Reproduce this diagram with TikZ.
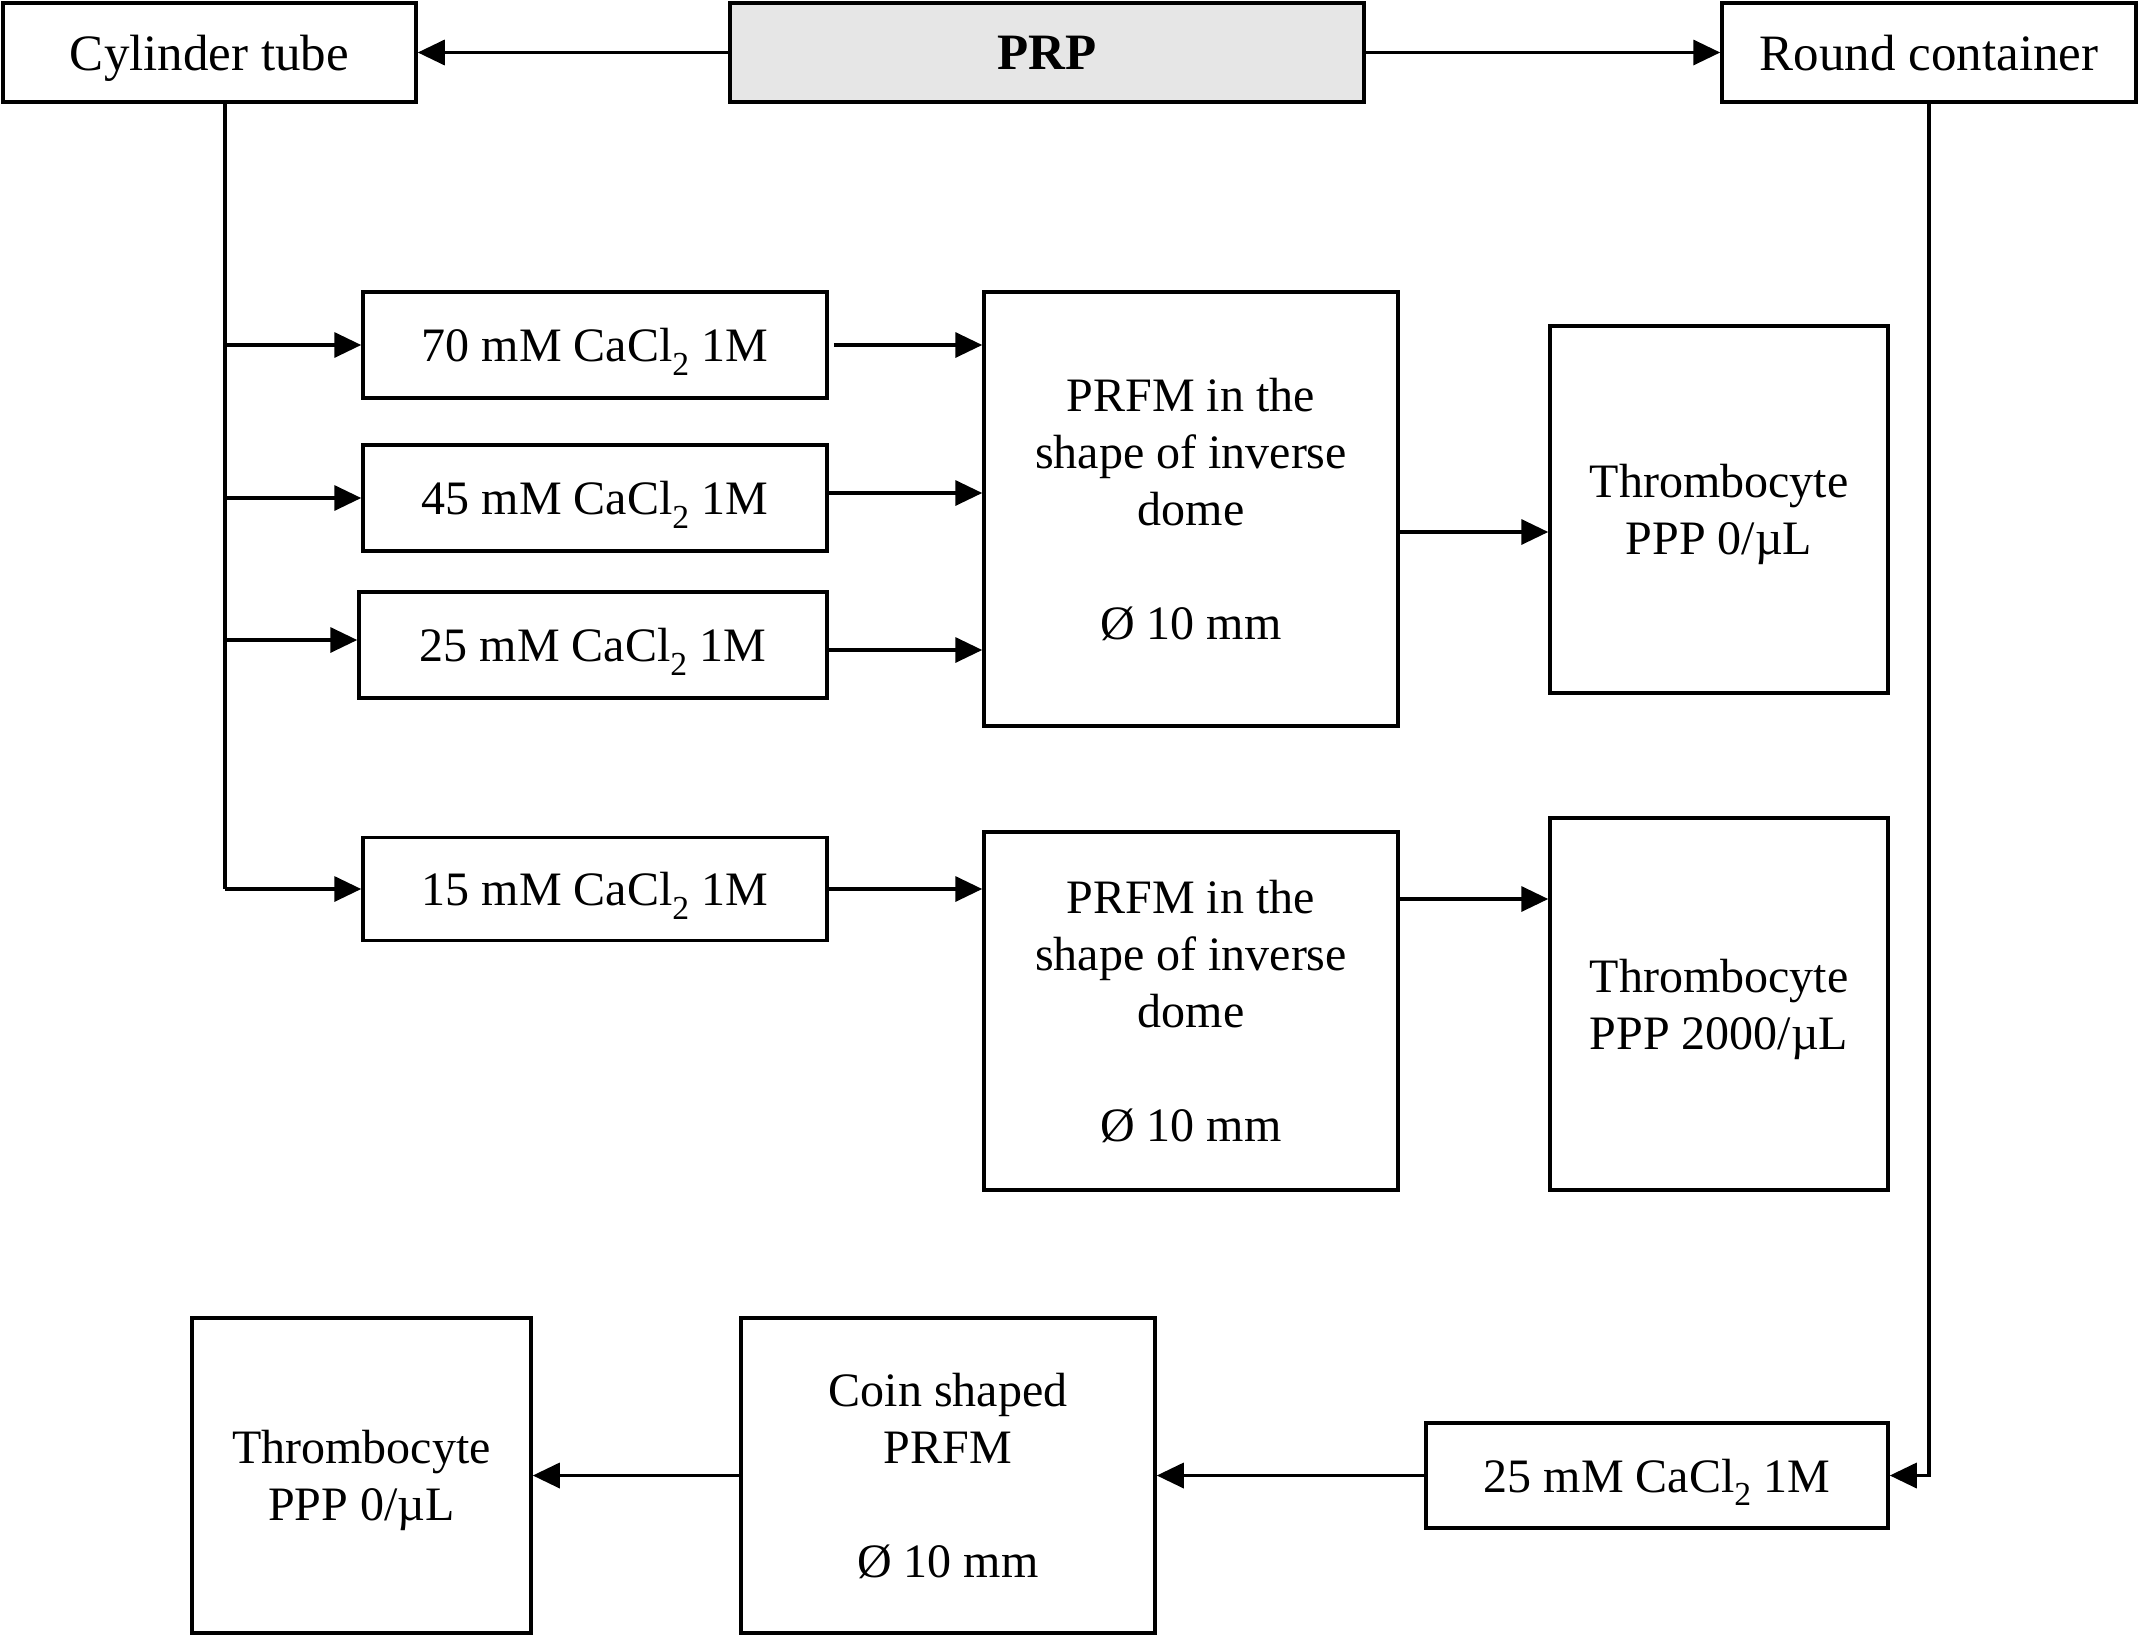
\documentclass[tikz,border=0pt]{standalone}
\usepackage{fontspec}
\setmainfont{Liberation Serif}
\usetikzlibrary{arrows.meta}
\begin{document}
\begin{tikzpicture}[x=1pt,y=-1pt,
  box/.style={draw,line width=3.5pt,rectangle,inner sep=0pt,align=center,text depth=0pt,
    font=\fontsize{48}{57}\selectfont},
  topbox/.style={box,minimum height=99pt,font=\fontsize{51}{60}\selectfont},
  arr/.style={line width=3.5pt,-{Triangle[length=27pt,width=25pt]}},
  ln/.style={line width=3.5pt}]
\useasboundingbox (0,0) rectangle (2139,1638);
\node[topbox,minimum width=413pt] (cyl) at (209.5,52.5) {Cylinder tube};
\node[topbox,minimum width=634pt,fill={rgb,255:red,230;green,230;blue,230},font=\fontsize{51}{60}\selectfont\bfseries] (prp) at (1047,52.5) {PRP};
\node[topbox,minimum width=414pt] (round) at (1929,52.5) {Round container};
\node[box,minimum width=464pt,minimum height=106pt] (c70) at (595,345) {70 mM CaCl\textsubscript{2} 1M};
\node[box,minimum width=464pt,minimum height=106pt] (c45) at (595,498) {45 mM CaCl\textsubscript{2} 1M};
\node[box,minimum width=468pt,minimum height=106pt] (c25) at (593,645) {25 mM CaCl\textsubscript{2} 1M};
\node[box,minimum width=464pt,minimum height=103pt] (c15) at (595,889) {15 mM CaCl\textsubscript{2} 1M};
\node[box,minimum width=414pt,minimum height=434pt] (p1) at (1191,509) {PRFM in the\\shape of inverse\\dome\\[57pt]Ø 10 mm};
\node[box,minimum width=338pt,minimum height=367pt] (t1) at (1719,509.5) {Thrombocyte\\PPP 0/µL};
\node[box,minimum width=414pt,minimum height=358pt] (p2) at (1191,1011) {PRFM in the\\shape of inverse\\dome\\[57pt]Ø 10 mm};
\node[box,minimum width=338pt,minimum height=372pt] (t2) at (1719,1004) {Thrombocyte\\PPP 2000/µL};
\node[box,minimum width=462pt,minimum height=105pt] (b25) at (1657,1475.5) {25 mM CaCl\textsubscript{2} 1M};
\node[box,minimum width=414pt,minimum height=315pt] (coin) at (948,1475.5) {Coin shaped\\PRFM\\[57pt]Ø 10 mm};
\node[box,minimum width=339pt,minimum height=315pt] (tb) at (361.5,1475.5) {Thrombocyte\\PPP 0/µL};
% top arrows
\draw[arr] (prp.west) -- (cyl.east);
\draw[arr] (prp.east) -- (round.west);
% cylinder trunk
\coordinate (cv) at (225,102);
\draw[ln] (cv) -- (cv |- c15.west);
\draw[arr] (c70.west -| cv) -- (c70.west);
\draw[arr] (c45.west -| cv) -- (c45.west);
\draw[arr] ([yshift=5pt]c25.west -| cv) -- ([yshift=5pt]c25.west);
\draw[arr] (c15.west -| cv) -- (c15.west);
% to PRFM
\draw[arr] ([xshift=5pt]c70.east) -- (c70.east -| p1.west);
\draw[arr] ([yshift=5pt]c45.east) -- ([yshift=5pt]c45.east -| p1.west);
\draw[arr] ([yshift=-5pt]c25.east) -- ([yshift=-5pt]c25.east -| p1.west);
\draw[arr] (c15.east) -- (c15.east -| p2.west);
\draw[arr] ([yshift=-23pt]p1.east) -- ([yshift=-23pt]p1.east -| t1.west);
\draw[arr] (p2.east |- 0,899) -- (t2.west |- 0,899);
% round container branch
\draw[arr] (round.south) |- (b25.east);
\draw[arr] (b25.west) -- (coin.east);
\draw[arr] (coin.west) -- (tb.east);
\end{tikzpicture}
\end{document}
